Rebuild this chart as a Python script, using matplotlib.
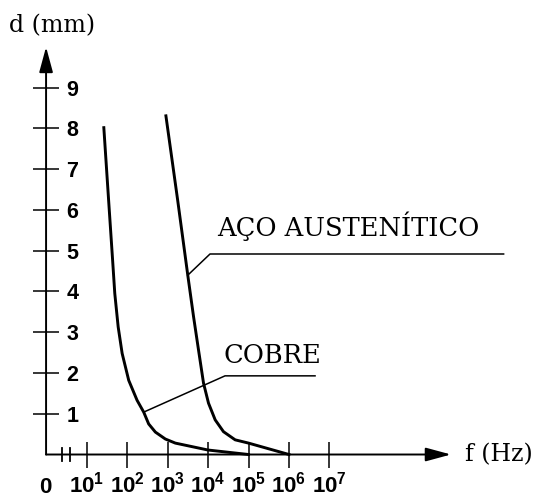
import matplotlib.pyplot as plt

# skin depth d (mm) against frequency f (Hz)
cobre_f = [26.7, 35.0, 44.0, 49.8, 60.4, 75.7, 110, 177, 258, 342, 501, 883,
           1556, 3000, 10000, 100000]
cobre_d = [8.02, 6.25, 4.77, 3.95, 3.13, 2.48, 1.82, 1.33, 1.04, 0.75, 0.55, 0.38,
           0.28, 0.22, 0.11, 0.0]

aco_f = [912, 1774, 2606, 3162, 4395, 5834, 7745, 10280, 15030, 24100, 46800,
         100000, 316000, 1000000]
aco_d = [8.31, 6.25, 5.02, 4.40, 3.38, 2.56, 1.75, 1.26, 0.85, 0.56, 0.36,
         0.28, 0.14, 0.0]

# leader lines: point on curve -> elbow -> end of underline
aco_lead_f = [3162, 11200, 2.0e11]
aco_lead_d = [4.40, 4.92, 4.92]
cobre_lead_f = [258, 26300, 4.4e6]
cobre_lead_d = [1.04, 1.93, 1.93]

aco_label = ('AÇO AUSTENÍTICO', 16600, 5.61)
cobre_label = ('COBRE', 24000, 2.42)

x_ticks = [1, 1e1, 1e2, 1e3, 1e4, 1e5, 1e6, 1e7]
x_labels = [r'$\mathrm{0}$'] + [r'$\mathrm{10}^{\mathrm{%d}}$' % k for k in range(1, 8)]
y_ticks = [1, 2, 3, 4, 5, 6, 7, 8, 9]
axis_break_f = [2.43, 3.89]

plt.rcParams['mathtext.fontset'] = 'custom'
plt.rcParams['mathtext.rm'] = 'Liberation Sans:bold'
serif = 'DejaVu Serif'

fig = plt.figure(figsize=(5.42, 4.97), dpi=100)
ax = fig.add_axes([0.085, 0.0855, 0.747, 0.820])
ax.set_xscale('log')
ax.set_xlim(1, 1e10)
ax.set_ylim(0, 10)
for s in ax.spines.values():
    s.set_visible(False)

# axes drawn as arrows
arrow = dict(arrowstyle='-|>,head_length=1.55,head_width=0.42', color='k',
             lw=1.4, shrinkA=0, shrinkB=0)
ax.annotate('', xy=(1, 0), xytext=(0, 0), xycoords='axes fraction', arrowprops=arrow)
ax.annotate('', xy=(0, 1), xytext=(0, 0), xycoords='axes fraction', arrowprops=arrow)

# curves
ax.plot(cobre_f, cobre_d, color='k', lw=2.1, solid_joinstyle='round', clip_on=False)
ax.plot(aco_f, aco_d, color='k', lw=2.1, solid_joinstyle='round', clip_on=False)

# leaders and labels
ax.plot(aco_lead_f, aco_lead_d, color='k', lw=1.1, clip_on=False)
ax.plot(cobre_lead_f, cobre_lead_d, color='k', lw=1.1, clip_on=False)
for txt, xf, yd in (aco_label, cobre_label):
    ax.text(xf, yd, txt, fontsize=18.5, family=serif, ha='left', va='center')

# break marks on the f axis
for xb in axis_break_f:
    ax.plot([xb, xb], [-0.15, 0.15], color='k', lw=1.3, clip_on=False)

# ticks
ax.set_xticks(x_ticks, x_labels)
ax.minorticks_off()
ax.tick_params(axis='x', direction='inout', length=19, width=1.1,
               labelsize=16, pad=18)
for lbl in ax.get_xticklabels():
    lbl.set_va('baseline')
ax.xaxis.get_major_ticks()[0].tick1line.set_visible(False)

ax.set_yticks(y_ticks, [str(v) for v in y_ticks])
ax.tick_params(axis='y', direction='inout', length=19, width=1.1,
               labelsize=15.5, pad=-24)
for lbl in ax.get_yticklabels():
    lbl.set_ha('left')
    lbl.set_fontfamily('Liberation Sans')
    lbl.set_fontweight('bold')

ax.text(0.014, 1.052, 'd (mm)', transform=ax.transAxes, ha='center',
        va='center', fontsize=17, family=serif)
ax.text(1.035, 0, 'f (Hz)', transform=ax.transAxes, ha='left',
        va='center', fontsize=17, family=serif)

fig.savefig('out.png', dpi=100)
